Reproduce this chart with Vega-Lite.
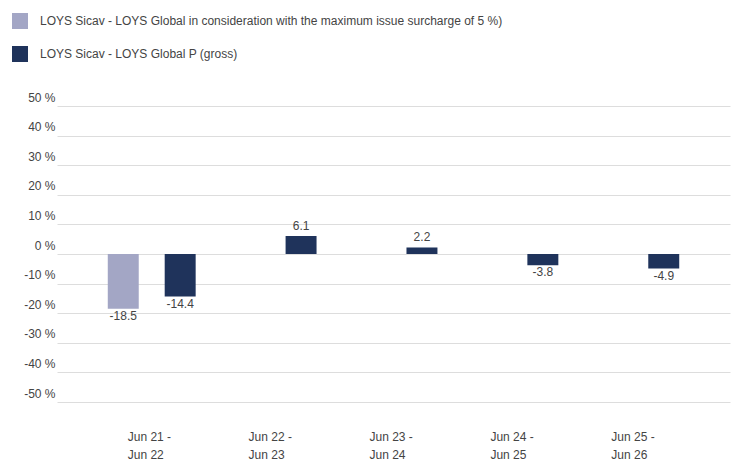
{
  "$schema": "https://vega.github.io/schema/vega-lite/v6.json",
  "autosize": "none",
  "padding": {"left": 57, "top": 106, "right": 3, "bottom": 60},
  "width": 673,
  "height": 296,
  "background": "white",
  "config": {
    "font": "Liberation Sans",
    "locale": {"number": {"decimal": ".", "thousands": ",", "grouping": [3], "currency": ["$", ""], "minus": "-"}},
    "view": {"stroke": null},
    "axis": {"labelFont": "Liberation Sans", "labelFontSize": 12, "labelColor": "#444444"},
    "legend": {"labelFont": "Liberation Sans", "labelFontSize": 12, "labelColor": "#444444"}
  },
  "data": {
    "values": [
      {"period": "Jun 21 - Jun 22", "series": "LOYS Sicav - LOYS Global in consideration with the maximum issue surcharge of 5 %)", "value": -18.5},
      {"period": "Jun 21 - Jun 22", "series": "LOYS Sicav - LOYS Global P (gross)", "value": -14.4},
      {"period": "Jun 22 - Jun 23", "series": "LOYS Sicav - LOYS Global P (gross)", "value": 6.1},
      {"period": "Jun 23 - Jun 24", "series": "LOYS Sicav - LOYS Global P (gross)", "value": 2.2},
      {"period": "Jun 24 - Jun 25", "series": "LOYS Sicav - LOYS Global P (gross)", "value": -3.8},
      {"period": "Jun 25 - Jun 26", "series": "LOYS Sicav - LOYS Global P (gross)", "value": -4.9}
    ]
  },
  "encoding": {
    "x": {
      "field": "period", "type": "nominal", "sort": null,
      "scale": {"paddingInner": 0.273, "paddingOuter": 0.42},
      "axis": {
        "title": null, "domain": false, "ticks": false, "grid": false,
        "labelAngle": 0, "labelAlign": "left", "labelOffset": -24,
        "labelBaseline": "top", "labelPadding": 29, "labelLineHeight": 18,
        "labelExpr": "[slice(datum.label, 0, 8), slice(datum.label, 9)]"
      }
    },
    "xOffset": {
      "field": "series", "type": "nominal",
      "scale": {
        "domain": ["LOYS Sicav - LOYS Global in consideration with the maximum issue surcharge of 5 %)", "LOYS Sicav - LOYS Global P (gross)"],
        "paddingInner": 0.456, "paddingOuter": 0
      }
    },
    "y": {
      "field": "value", "type": "quantitative",
      "scale": {"domain": [-50, 50], "nice": false},
      "axis": {
        "title": null, "domain": false, "ticks": false,
        "values": [-50, -40, -30, -20, -10, 0, 10, 20, 30, 40, 50],
        "labelExpr": "datum.value + ' %'",
        "labelPadding": 2, "labelBaseline": "middle", "labelOffset": -9,
        "gridColor": "#dddddd", "gridWidth": 1
      }
    }
  },
  "layer": [
    {
      "mark": {"type": "bar"},
      "encoding": {
        "color": {
          "field": "series", "type": "nominal",
          "scale": {
            "domain": ["LOYS Sicav - LOYS Global in consideration with the maximum issue surcharge of 5 %)", "LOYS Sicav - LOYS Global P (gross)"],
            "range": ["#a3a6c5", "#1f335b"]
          },
          "legend": {
            "title": null, "orient": "none", "legendX": -45, "legendY": -93,
            "direction": "vertical", "padding": 0,
            "symbolType": "square", "symbolSize": 256, "symbolStrokeWidth": 0,
            "symbolOffset": 0, "labelOffset": 12, "rowPadding": 17,
            "labelLimit": 700
          }
        }
      }
    },
    {
      "transform": [{"filter": "datum.value < 0"}],
      "mark": {"type": "text", "baseline": "top", "dy": 2, "fontSize": 12, "color": "#444444"},
      "encoding": {"text": {"field": "value", "type": "quantitative", "format": ".1f"}}
    },
    {
      "transform": [{"filter": "datum.value >= 0"}],
      "mark": {"type": "text", "baseline": "bottom", "dy": -3, "fontSize": 12, "color": "#444444"},
      "encoding": {"text": {"field": "value", "type": "quantitative", "format": ".1f"}}
    }
  ]
}
